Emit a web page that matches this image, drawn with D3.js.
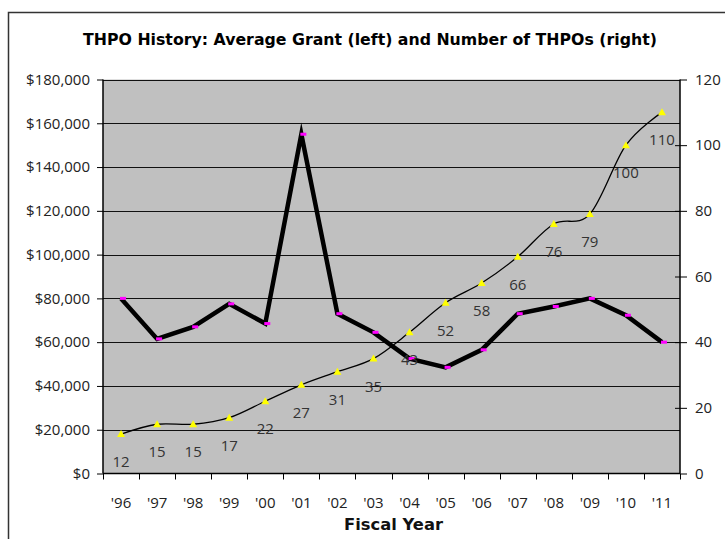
<!DOCTYPE html>
<html><head><meta charset="utf-8">
<script src="https://cdn.jsdelivr.net/npm/d3@7"></script>
<style>
html,body{margin:0;padding:0;background:#fff;}
svg{display:block;}
text{font-family:"Open Sans",sans-serif;}
</style></head>
<body>
<svg id="chart" width="725" height="539"></svg>
<script>
const years = ["'96","'97","'98","'99","'00","'01","'02","'03","'04","'05","'06","'07","'08","'09","'10","'11"];
const avgGrant = [80000,61500,67000,77500,68500,155000,73000,64500,52500,48500,56500,73000,76300,80000,72300,60000];
const numTHPOs = [12,15,15,17,22,27,31,35,43,52,58,66,76,79,100,110];
const leftTicks = [0,20000,40000,60000,80000,100000,120000,140000,160000,180000];
const rightTicks = [0,20,40,60,80,100,120];
const titleText = "THPO History: Average Grant (left) and Number of THPOs (right)";
const xTitle = "Fiscal Year";

const svg = d3.select("#chart");
const m = {left:103, right:680, top:79.5, bottom:473.5};
const tickFont = "15px";

// outer chart border
svg.append("rect").attr("x",8.5).attr("y",12.5).attr("width",740).attr("height",560)
  .attr("fill","#fff").attr("stroke","#333").attr("stroke-width",1.5);

const x = d3.scaleBand().domain(years).range([m.left,m.right]).padding(0);
const yL = d3.scaleLinear().domain([0,180000]).range([m.bottom,m.top]);
const yR = d3.scaleLinear().domain([0,120]).range([m.bottom,m.top]);
const cx = d => x(d) + x.bandwidth()/2;

// plot area
svg.append("rect").attr("x",m.left).attr("y",m.top).attr("width",m.right-m.left).attr("height",m.bottom-m.top)
  .attr("fill","#C0C0C0");

// gridlines
svg.append("g").selectAll("line").data(leftTicks.filter(d=>d>0)).join("line")
  .attr("x1",m.left).attr("x2",m.right)
  .attr("y1",d=>Math.round(yL(d))+0.5).attr("y2",d=>Math.round(yL(d))+0.5)
  .attr("stroke","#111").attr("stroke-width",1);

// left axis
const gL = svg.append("g").attr("transform",`translate(${m.left},0)`)
  .call(d3.axisLeft(yL).tickValues(leftTicks).tickSize(6).tickPadding(7).tickFormat(d=>"$"+d3.format(",")(d)));
gL.select(".domain").attr("stroke","#000").attr("stroke-width",1.5).attr("d",`M0,${m.bottom}V${m.top}`);
gL.selectAll(".tick line").attr("stroke","#000");
gL.selectAll(".tick text").attr("fill","#222").style("font-size",tickFont).style("font-family","'Open Sans',sans-serif");

// right axis
const gR = svg.append("g").attr("transform",`translate(${m.right},0)`)
  .call(d3.axisRight(yR).tickValues(rightTicks).tickSize(7).tickPadding(8));
gR.select(".domain").attr("stroke","#000").attr("stroke-width",1.5).attr("d",`M0,${m.bottom}V${m.top}`);
gR.selectAll(".tick line").attr("stroke","#000").attr("x1",d=>d>0 && d<120 ? -5 : 0);
gR.selectAll(".tick text").attr("fill","#222").style("font-size",tickFont).style("font-family","'Open Sans',sans-serif");

// bottom axis
const gB = svg.append("g").attr("transform",`translate(0,${m.bottom})`)
  .call(d3.axisBottom(x).tickSize(0).tickPadding(24));
gB.select(".domain").attr("stroke","#000").attr("stroke-width",1.5).attr("d",`M${m.left},0H${m.right}`);
gB.selectAll(".tick text").attr("fill","#222").style("font-size",tickFont).style("font-family","'Open Sans',sans-serif");
const bounds = years.map(d=>x(d)).concat([m.right]);
svg.append("g").selectAll("line").data(bounds).join("line")
  .attr("x1",d=>Math.round(d)+0.5).attr("x2",d=>Math.round(d)+0.5)
  .attr("y1",m.bottom).attr("y2",m.bottom+6).attr("stroke","#000").attr("stroke-width",1);

// thick line: average grant
svg.append("path").datum(years.map((d,i)=>[cx(d),yL(avgGrant[i])]))
  .attr("d",d3.line().curve(d3.curveLinear))
  .attr("fill","none").attr("stroke","#000").attr("stroke-width",4.5).attr("stroke-linejoin","miter").attr("stroke-miterlimit",10);

// thin smoothed line: number of THPOs
svg.append("path").datum(years.map((d,i)=>[cx(d),yR(numTHPOs[i])]))
  .attr("d",d3.line().curve(d3.curveCardinal.tension(0)))
  .attr("fill","none").attr("stroke","#000").attr("stroke-width",1.3);

// magenta markers
svg.append("g").selectAll("rect").data(years).join("rect")
  .attr("x",d=>cx(d)-1).attr("y",(d,i)=>yL(avgGrant[i])-1.5)
  .attr("width",6).attr("height",3).attr("fill","#FF00FF");

// yellow triangles
svg.append("g").selectAll("path").data(years).join("path")
  .attr("transform",(d,i)=>`translate(${cx(d)},${yR(numTHPOs[i])})`)
  .attr("d","M0,-4L4,3L-4,3Z").attr("fill","#FFFF00");

// data labels
svg.append("g").selectAll("text").data(years).join("text")
  .attr("x",d=>cx(d)).attr("y",(d,i)=>yR(numTHPOs[i])+33)
  .attr("text-anchor","middle").attr("fill","#333").style("font-size",tickFont)
  .text((d,i)=>numTHPOs[i]);

function fit(sel, target, base){
  const w = sel.node().getComputedTextLength();
  if (w > 0) sel.style("font-size", (base*target/w).toFixed(2)+"px");
}

// title
const t = svg.append("text").attr("x",370).attr("y",45).attr("text-anchor","middle")
  .style("font-family","'DejaVu Sans',sans-serif")
  .style("font-size","14px").style("font-weight","bold").attr("fill","#000").text(titleText);
fit(t, 574, 14);

// x title
const xt = svg.append("text").attr("x",(m.left+m.right)/2 + 2).attr("y",530).attr("text-anchor","middle")
  .style("font-family","'DejaVu Sans',sans-serif")
  .style("font-size","15px").style("font-weight","bold").attr("fill","#111").text(xTitle);
fit(xt, 99, 15);
</script>
</body></html>
